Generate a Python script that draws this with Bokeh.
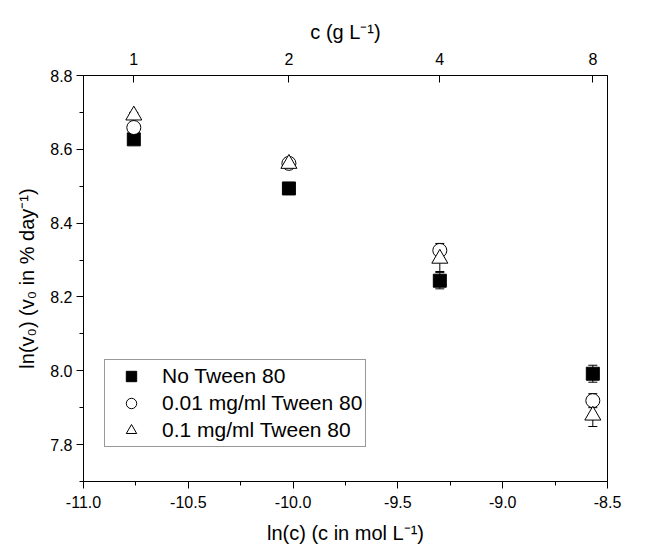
from bokeh.plotting import figure
from bokeh.models import (ColumnDataSource, LinearAxis, FixedTicker, PrintfTickFormatter,
                          Whisker, TeeHead, Legend, LegendItem, Range1d)
from bokeh.embed import file_html
from bokeh.resources import INLINE

# ---- data ----
ln_c = [-10.76, -10.02, -9.30, -8.57]          # ln(c), c in mol/L
c_gL_labels = ["1", "2", "4", "8"]              # c in g/L (top axis)
no_tween = [8.627, 8.494, 8.244, 7.992]
no_tween_err = [0.008, 0.008, 0.022, 0.023]
tw001 = [8.659, 8.562, 8.326, 7.919]
tw001_err = [0.008, 0.008, 0.019, 0.019]
tw01 = [8.692, 8.561, 8.304, 7.879]
tw01_err = [0.008, 0.008, 0.035, 0.030]
series_names = ["No Tween 80", "0.01 mg/ml Tween 80", "0.1 mg/ml Tween 80"]

y_ticks = [7.8, 8.0, 8.2, 8.4, 8.6, 8.8]
y_minor = [7.7, 7.9, 8.1, 8.3, 8.5, 8.7]
x_ticks = [-11.0, -10.5, -10.0, -9.5, -9.0, -8.5]
x_minor = [-10.75, -10.25, -9.75, -9.25, -8.75]

FONT = "Liberation Sans"

p = figure(width=650, height=545, output_backend="svg", toolbar_location=None,
           x_range=Range1d(-11.0, -8.5), y_range=Range1d(7.7, 8.8),
           x_axis_location=None, y_axis_location=None,
           min_border_left=83, min_border_right=43, min_border_top=75, min_border_bottom=64)
p.frame_width = 524
p.frame_height = 406
p.xgrid.visible = False
p.ygrid.visible = False
p.outline_line_color = "black"
p.outline_line_width = 1
p.background_fill_color = "white"
p.border_fill_color = "white"

def style_axis(ax, tick_size="16px", label_size="20px"):
    ax.axis_line_color = "black"
    ax.major_tick_line_color = "black"
    ax.minor_tick_line_color = "black"
    ax.major_label_text_font = FONT
    ax.major_label_text_font_size = tick_size
    ax.major_label_text_color = "black"
    ax.axis_label_text_font = FONT
    ax.axis_label_text_font_size = label_size
    ax.axis_label_text_font_style = "normal"
    ax.axis_label_text_color = "black"
    ax.major_tick_out = 7
    ax.major_tick_in = 0
    ax.minor_tick_out = 4
    ax.minor_tick_in = 0

xb = LinearAxis(ticker=FixedTicker(ticks=x_ticks, minor_ticks=x_minor),
                formatter=PrintfTickFormatter(format="%.1f"),
                axis_label="ln(c) (c in mol L\u207B\u00B9)")
style_axis(xb)
xb.major_label_standoff = 7
xb.axis_label_standoff = 11
p.add_layout(xb, "below")

yl = LinearAxis(ticker=FixedTicker(ticks=y_ticks, minor_ticks=y_minor),
                formatter=PrintfTickFormatter(format="%.1f"),
                axis_label="ln(v\u2080) (v\u2080 in % day\u207B\u00B9)")
style_axis(yl)
yl.major_label_standoff = 4
yl.axis_label_standoff = 9
p.add_layout(yl, "left")

xt = LinearAxis(ticker=FixedTicker(ticks=ln_c, minor_ticks=[]),
                major_label_overrides={v: s for v, s in zip(ln_c, c_gL_labels)},
                axis_label="c (g L\u207B\u00B9)")
style_axis(xt)
xt.major_tick_out = 0
xt.major_tick_in = 7
xt.minor_tick_out = 0
xt.major_label_standoff = 11
xt.axis_label_standoff = 7
p.add_layout(xt, "above")

renderers = []
series = [(no_tween, no_tween_err, "square", "black", 13),
          (tw001, tw001_err, "circle", "white", 14),
          (tw01, tw01_err, "triangle", "white", 16)]
for vals, errs, marker, fill, size in series:
    src = ColumnDataSource(dict(x=ln_c, y=vals,
                                lo=[v - e for v, e in zip(vals, errs)],
                                hi=[v + e for v, e in zip(vals, errs)]))
    w = Whisker(source=src, base="x", upper="hi", lower="lo",
                line_color="black", line_width=1,
                upper_head=TeeHead(size=9, line_color="black", line_width=1),
                lower_head=TeeHead(size=9, line_color="black", line_width=1))
    p.add_layout(w)
    r = p.scatter("x", "y", source=src, marker=marker, size=size,
                  fill_color=fill, line_color="black", line_width=1)
    renderers.append(r)

legend = Legend(items=[LegendItem(label=n, renderers=[r]) for n, r in zip(series_names, renderers)],
                location=(21, 34))
legend.label_text_font = FONT
legend.label_text_font_size = "21px"
legend.label_text_color = "black"
legend.border_line_color = "#333333"
legend.border_line_width = 1
legend.background_fill_alpha = 1
legend.glyph_width = 46
legend.glyph_height = 26
legend.label_height = 26
legend.spacing = 1
legend.padding = 3
legend.margin = 0
legend.label_standoff = 8
p.add_layout(legend, "center")

open("out.html", "w").write(file_html(p, INLINE))
